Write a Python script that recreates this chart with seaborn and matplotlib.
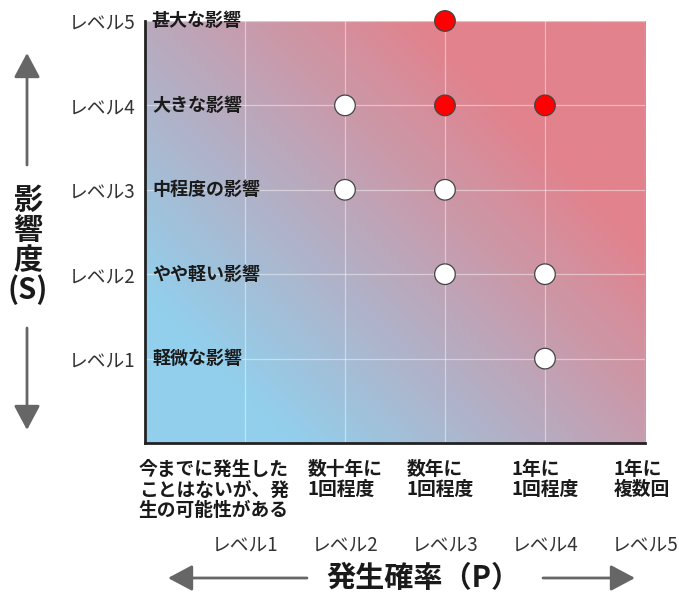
import numpy as np
import pandas as pd
import matplotlib
matplotlib.use("Agg")
import matplotlib.pyplot as plt
import seaborn as sns

# severity (S) levels, bottom to top
sev_levels = [1, 2, 3, 4, 5]
sev_ticks = ["レベル1", "レベル2", "レベル3", "レベル4", "レベル5"]
sev_names = ["軽微な影響", "やや軽い影響", "中程度の影響", "大きな影響", "甚大な影響"]

# probability (P) levels, left to right
prob_levels = [1, 2, 3, 4, 5]
prob_ticks = ["レベル1", "レベル2", "レベル3", "レベル4", "レベル5"]
prob_names = ["今までに発生した\nことはないが、発\n生の可能性がある",
              "数十年に\n1回程度",
              "数年に\n1回程度",
              "1年に\n1回程度",
              "1年に\n複数回"]

# plotted risks
risk_p = [2, 2, 3, 3, 4, 4, 3, 3, 4]
risk_s = [4, 3, 3, 2, 2, 1, 5, 4, 4]
risk_kind = ["low", "low", "low", "low", "low", "low", "high", "high", "high"]

df = pd.DataFrame({"P": risk_p, "S": risk_s, "kind": risk_kind})

sns.set_theme(style="white")
plt.rcParams["font.family"] = ["Noto Sans CJK JP", "DejaVu Sans"]

fig = plt.figure(figsize=(6.79, 5.96), dpi=100)
ax = fig.add_axes([0.2135, 0.2567, 0.7364, 0.7081])

# diagonal blue -> pink background
blue = np.array([146, 207, 236]) / 255
pink = np.array([226, 130, 140]) / 255
gx, gy = np.meshgrid(np.linspace(0, 5, 300), np.linspace(0, 5, 300))
t = np.clip((gx * 100 + gy * 84.4 - 150) / 550, 0, 1)[..., None]
ax.imshow(blue * (1 - t) + pink * t, extent=[0, 5, 0, 5], origin="lower",
          aspect="auto", interpolation="bilinear", zorder=0)

ax.grid(True, color="white", alpha=0.45, lw=0.9)

sns.scatterplot(data=df, x="P", y="S", hue="kind",
                palette={"low": "white", "high": "#ff0000"},
                s=220, edgecolor="#444444", linewidth=0.9,
                legend=False, clip_on=False, zorder=5, ax=ax)

ax.set_xlim(0, 5)
ax.set_ylim(0, 5)
ax.set_xlabel("")
ax.set_ylabel("")

for side in ["top", "right"]:
    ax.spines[side].set_visible(False)
for side in ["left", "bottom"]:
    ax.spines[side].set_color("#222222")
    ax.spines[side].set_linewidth(2)

ax.set_xticks(prob_levels)
ax.tick_params(axis="x", direction="in", length=27, width=1.6,
               color="#222222", labelbottom=False)
ax.set_yticks(sev_levels, sev_ticks)
ax.tick_params(axis="y", length=0, pad=7, labelsize=13.5, labelcolor="#333333")

for lvl, name in zip(sev_levels, sev_names):
    ax.text(0.07, lvl, name, ha="left", va="center", fontsize=13,
            fontweight="bold", color="#1a1a1a", zorder=6)

trans = ax.get_xaxis_transform()
cat_x = [-0.06, 2, 2.95, 4, 4.97]
for i, (lvl, name) in enumerate(zip(prob_levels, prob_names)):
    ax.text(cat_x[i], -0.04, name, transform=trans,
            ha="left" if i == 0 else "center", multialignment="left",
            va="top", fontsize=13.5, fontweight="bold", color="#1a1a1a",
            linespacing=1.1)
for lvl, lab in zip(prob_levels, prob_ticks):
    ax.text(lvl, -0.2417, lab, transform=trans, ha="center", va="center",
            fontsize=13.5, color="#333333")

# axis titles with arrows
fig.text(423 / 679, 1 - 578 / 596, "発生確率（P）", ha="center", va="center",
         fontsize=21, fontweight="bold", color="#1a1a1a")
fig.text(28 / 679, 1 - 245 / 596, "影\n響\n度\n(S)", ha="center", va="center",
         fontsize=21, fontweight="bold", color="#1a1a1a", linespacing=1.0)

arrow = dict(arrowstyle="-|>,head_length=0.75,head_width=0.4",
             color="#666666", lw=2, mutation_scale=20, shrinkA=0, shrinkB=0)
for start, end in [((27, 165), (27, 53)), ((27, 328), (27, 430)),
                   ((307, 578), (168, 578)), ((543, 578), (635, 578))]:
    ax.annotate("", xy=(end[0] / 679, 1 - end[1] / 596),
                xytext=(start[0] / 679, 1 - start[1] / 596),
                xycoords="figure fraction", textcoords="figure fraction",
                arrowprops=arrow, annotation_clip=False)

fig.savefig("out.png", dpi=100)
